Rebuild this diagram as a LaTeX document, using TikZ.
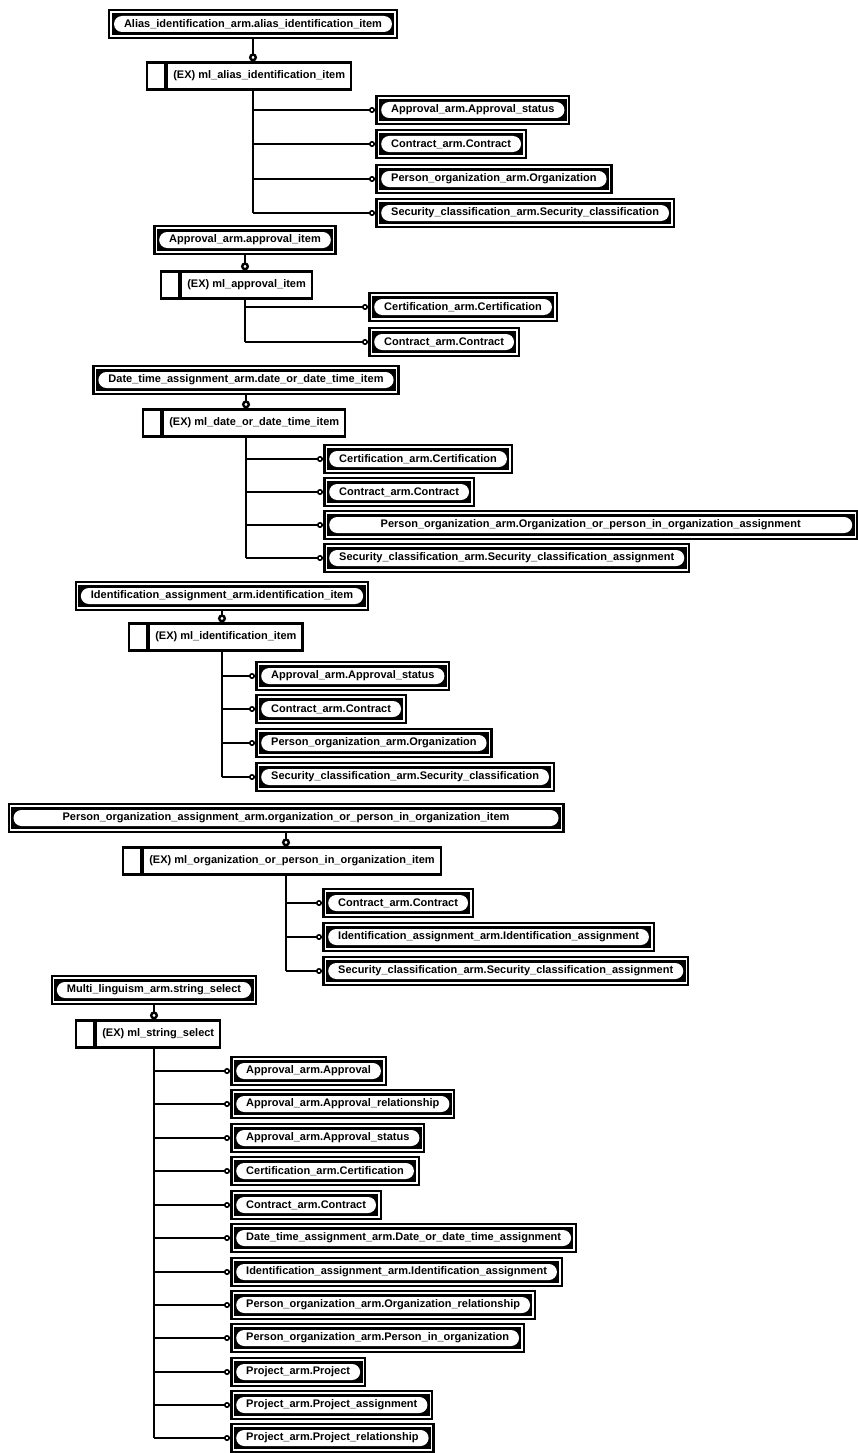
\documentclass[tikz,border=0pt]{standalone}
\usepackage{fontspec}
\setmainfont{Liberation Sans}
\usetikzlibrary{arrows.meta, positioning}
\newcommand\tagfont{\fontsize{11pt}{13pt}\selectfont\bfseries}
\tikzset{
  refbox/.style={rectangle, fill=black, text=black, minimum height=30pt,
    inner xsep=16pt, inner ysep=0pt, font=\tagfont,
    path picture={
      \draw[white, line width=1.2pt]
        ([shift={(3pt,3pt)}]path picture bounding box.south west) rectangle
        ([shift={(-3pt,-3pt)}]path picture bounding box.north east);
      \fill[white, rounded corners=8pt]
        ([shift={(6pt,7pt)}]path picture bounding box.south west) rectangle
        ([shift={(-6pt,-7pt)}]path picture bounding box.north east);
    }},
  selcell/.style={rectangle, draw=black, fill=white, line width=2.2pt,
    minimum width=18pt, minimum height=27pt, anchor=west},
  seltext/.style={selcell, minimum width=0pt, inner xsep=6pt, font=\tagfont},
  wire/.style={line width=2pt},
  link/.style={wire, -{Circle[open, length=6pt, width=6pt, line width=1.6pt]}},
  basedon/.style={line width=2.6pt, -{Circle[open, length=8pt, width=8pt, line width=2.4pt]}},
}
\begin{document}
\begin{tikzpicture}[x=1pt, y=-1pt]
  \useasboundingbox (0,0) rectangle (858,1453);

  % ---- Alias identification ----------------------------------------------
  \node[refbox] (alias) at (253,24) {Alias\_identification\_arm.alias\_identification\_item};
  \node[selcell] (aliasC) at (146,76) {};
  \node[seltext, right=0pt of aliasC] (aliasS) {(EX) ml\_alias\_identification\_item};
  \node[refbox, anchor=west] (aliasApst) at (375,110) {Approval\_arm.Approval\_status};
  \node[refbox, anchor=west] (aliasCon)  at (375,144) {Contract\_arm.Contract};
  \node[refbox, anchor=west] (aliasOrg)  at (375,179) {Person\_organization\_arm.Organization};
  \node[refbox, anchor=west] (aliasSec)  at (375,213) {Security\_classification\_arm.Security\_classification};

  % ---- Approval ----------------------------------------------------------
  \node[refbox] (appr) at (245,240) {Approval\_arm.approval\_item};
  \node[selcell] (apprC) at (160,285) {};
  \node[seltext, right=0pt of apprC] (apprS) {(EX) ml\_approval\_item};
  \node[refbox, anchor=west] (apprCert) at (368,307) {Certification\_arm.Certification};
  \node[refbox, anchor=west] (apprCon)  at (368,342) {Contract\_arm.Contract};

  % ---- Date time ---------------------------------------------------------
  \node[refbox] (date) at (246,380) {Date\_time\_assignment\_arm.date\_or\_date\_time\_item};
  \node[selcell] (dateC) at (142,423) {};
  \node[seltext, right=0pt of dateC] (dateS) {(EX) ml\_date\_or\_date\_time\_item};
  \node[refbox, anchor=west] (dateCert) at (323,459) {Certification\_arm.Certification};
  \node[refbox, anchor=west] (dateCon)  at (323,492) {Contract\_arm.Contract};
  \node[refbox, anchor=west, minimum width=535pt] (dateOrg) at (323,525)
    {Person\_organization\_arm.Organization\_or\_person\_in\_organization\_assignment};
  \node[refbox, anchor=west] (dateSec)  at (323,558) {Security\_classification\_arm.Security\_classification\_assignment};

  % ---- Identification ----------------------------------------------------
  \node[refbox] (ident) at (222,596) {Identification\_assignment\_arm.identification\_item};
  \node[selcell] (identC) at (128,637) {};
  \node[seltext, right=0pt of identC] (identS) {(EX) ml\_identification\_item};
  \node[refbox, anchor=west] (identApst) at (255,676) {Approval\_arm.Approval\_status};
  \node[refbox, anchor=west] (identCon)  at (255,709) {Contract\_arm.Contract};
  \node[refbox, anchor=west] (identOrg)  at (255,743) {Person\_organization\_arm.Organization};
  \node[refbox, anchor=west] (identSec)  at (255,777) {Security\_classification\_arm.Security\_classification};

  % ---- Person / organization ---------------------------------------------
  \node[refbox, minimum width=557pt] (porg) at (286,818)
    {Person\_organization\_assignment\_arm.organization\_or\_person\_in\_organization\_item};
  \node[selcell] (porgC) at (122,861) {};
  \node[seltext, right=0pt of porgC] (porgS) {(EX) ml\_organization\_or\_person\_in\_organization\_item};
  \node[refbox, anchor=west] (porgCon)   at (322,903) {Contract\_arm.Contract};
  \node[refbox, anchor=west] (porgIdent) at (322,937) {Identification\_assignment\_arm.Identification\_assignment};
  \node[refbox, anchor=west] (porgSec)   at (322,971) {Security\_classification\_arm.Security\_classification\_assignment};

  % ---- Multi linguism ----------------------------------------------------
  \node[refbox] (ml) at (154,990) {Multi\_linguism\_arm.string\_select};
  \node[selcell] (mlC) at (75,1034) {};
  \node[seltext, right=0pt of mlC] (mlS) {(EX) ml\_string\_select};
  \node[refbox, anchor=west] (mlAppr)   at (230,1071) {Approval\_arm.Approval};
  \node[refbox, anchor=west] (mlApRel)  at (230,1104) {Approval\_arm.Approval\_relationship};
  \node[refbox, anchor=west] (mlApSt)   at (230,1138) {Approval\_arm.Approval\_status};
  \node[refbox, anchor=west] (mlCert)   at (230,1171) {Certification\_arm.Certification};
  \node[refbox, anchor=west] (mlCon)    at (230,1205) {Contract\_arm.Contract};
  \node[refbox, anchor=west] (mlDate)   at (230,1238) {Date\_time\_assignment\_arm.Date\_or\_date\_time\_assignment};
  \node[refbox, anchor=west] (mlIdent)  at (230,1272) {Identification\_assignment\_arm.Identification\_assignment};
  \node[refbox, anchor=west] (mlOrgRel) at (230,1305) {Person\_organization\_arm.Organization\_relationship};
  \node[refbox, anchor=west] (mlPio)    at (230,1338) {Person\_organization\_arm.Person\_in\_organization};
  \node[refbox, anchor=west] (mlProj)   at (230,1372) {Project\_arm.Project};
  \node[refbox, anchor=west] (mlPrAsg)  at (230,1405) {Project\_arm.Project\_assignment};
  \node[refbox, anchor=west] (mlPrRel)  at (230,1438) {Project\_arm.Project\_relationship};

  % ---- Edges -------------------------------------------------------------
  % based-on links, top box down to the select box
  \draw[basedon] (alias.south) -- (alias.south |- aliasS.north);
  \draw[basedon] (appr.south)  -- (appr.south |- apprS.north);
  \draw[basedon] (date.south)  -- (date.south |- dateS.north);
  \draw[basedon] (ident.south) -- (ident.south |- identS.north);
  \draw[basedon] (porg.south)  -- (porg.south |- porgS.north);
  \draw[basedon] (ml.south)    -- (ml.south |- mlS.north);

  % trunks
  \draw[wire] (alias |- aliasS.south) -- (alias |- aliasSec.west);
  \draw[wire] (appr |- apprS.south)   -- (appr |- apprCon.west);
  \draw[wire] (date |- dateS.south)   -- (date |- dateSec.west);
  \draw[wire] (ident |- identS.south) -- (ident |- identSec.west);
  \draw[wire] (porg |- porgS.south)   -- (porg |- porgSec.west);
  \draw[wire] (ml |- mlS.south)       -- (ml |- mlPrRel.west);

  % branches
  \draw[link] (alias |- aliasApst.west) -- (aliasApst.west);
  \draw[link] (alias |- aliasCon.west)  -- (aliasCon.west);
  \draw[link] (alias |- aliasOrg.west)  -- (aliasOrg.west);
  \draw[link] (alias |- aliasSec.west)  -- (aliasSec.west);

  \draw[link] (appr |- apprCert.west) -- (apprCert.west);
  \draw[link] (appr |- apprCon.west)  -- (apprCon.west);

  \draw[link] (date |- dateCert.west) -- (dateCert.west);
  \draw[link] (date |- dateCon.west)  -- (dateCon.west);
  \draw[link] (date |- dateOrg.west)  -- (dateOrg.west);
  \draw[link] (date |- dateSec.west)  -- (dateSec.west);

  \draw[link] (ident |- identApst.west) -- (identApst.west);
  \draw[link] (ident |- identCon.west)  -- (identCon.west);
  \draw[link] (ident |- identOrg.west)  -- (identOrg.west);
  \draw[link] (ident |- identSec.west)  -- (identSec.west);

  \draw[link] (porg |- porgCon.west)   -- (porgCon.west);
  \draw[link] (porg |- porgIdent.west) -- (porgIdent.west);
  \draw[link] (porg |- porgSec.west)   -- (porgSec.west);

  \draw[link] (ml |- mlAppr.west)   -- (mlAppr.west);
  \draw[link] (ml |- mlApRel.west)  -- (mlApRel.west);
  \draw[link] (ml |- mlApSt.west)   -- (mlApSt.west);
  \draw[link] (ml |- mlCert.west)   -- (mlCert.west);
  \draw[link] (ml |- mlCon.west)    -- (mlCon.west);
  \draw[link] (ml |- mlDate.west)   -- (mlDate.west);
  \draw[link] (ml |- mlIdent.west)  -- (mlIdent.west);
  \draw[link] (ml |- mlOrgRel.west) -- (mlOrgRel.west);
  \draw[link] (ml |- mlPio.west)    -- (mlPio.west);
  \draw[link] (ml |- mlProj.west)   -- (mlProj.west);
  \draw[link] (ml |- mlPrAsg.west)  -- (mlPrAsg.west);
  \draw[link] (ml |- mlPrRel.west)  -- (mlPrRel.west);

\end{tikzpicture}
\end{document}
